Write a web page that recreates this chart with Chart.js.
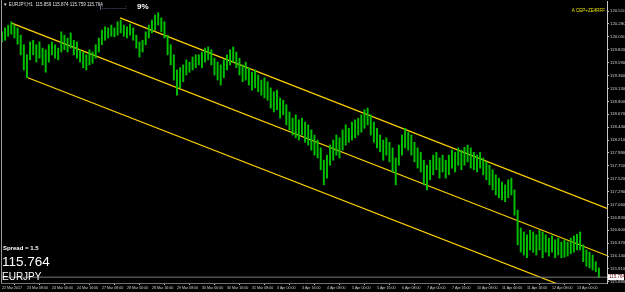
<!DOCTYPE html>
<html>
<head>
<meta charset="utf-8">
<script src="https://cdn.jsdelivr.net/npm/chart.js@4.4.1/dist/chart.umd.min.js"></script>
<style>
  html, body { margin: 0; padding: 0; background: #000; }
  #myChart { display: block; }
</style>
</head>
<body>
<canvas id="myChart" width="625" height="292"></canvas>
<script>
// EURJPY H1, shown as 2-hour bars (high / low)
const highs = [
  120.14, 120.21, 120.26, 120.32, 120.26, 120.21, 120.08, 119.91, 119.73, 119.96,
  119.99, 119.91, 119.96, 119.85, 119.82, 119.91, 119.96, 119.91, 119.85, 120.14,
  120.08, 120.03, 120.12, 119.99, 119.96, 119.82, 119.78, 119.73, 119.82, 119.78,
  119.91, 120.03, 120.17, 120.23, 120.21, 120.26, 120.21, 120.32, 120.35, 120.26,
  120.23, 120.28, 120.21, 120.08, 119.96, 119.99, 120.14, 120.26, 120.35, 120.44,
  120.48, 120.39, 120.32, 120.08, 119.91, 119.73, 119.46, 119.50, 119.55, 119.64,
  119.60, 119.69, 119.73, 119.73, 119.78, 119.85, 119.87, 119.82, 119.67, 119.60,
  119.55, 119.64, 119.73, 119.82, 119.87, 119.78, 119.67, 119.55, 119.60, 119.50,
  119.42, 119.46, 119.37, 119.28, 119.32, 119.25, 119.14, 119.07, 119.10, 118.96,
  118.92, 118.84, 118.71, 118.60, 118.66, 118.57, 118.60, 118.53, 118.48, 118.39,
  118.30, 118.21, 118.07, 117.85, 117.94, 118.12, 118.21, 118.30, 118.25, 118.39,
  118.48, 118.42, 118.53, 118.57, 118.60, 118.66, 118.75, 118.78, 118.66, 118.53,
  118.42, 118.30, 118.21, 118.25, 118.17, 118.07, 117.89, 118.12, 118.30, 118.42,
  118.35, 118.30, 118.17, 118.07, 117.99, 117.85, 117.76, 117.85, 117.94, 117.99,
  117.89, 117.94, 117.85, 117.94, 118.03, 117.99, 118.07, 118.03, 118.08, 118.12,
  118.07, 117.99, 117.94, 117.99, 117.89, 117.82, 117.76, 117.68, 117.59, 117.53,
  117.46, 117.41, 117.50, 117.53, 117.32, 116.96, 116.64, 116.57, 116.52, 116.60,
  116.57, 116.52, 116.60, 116.57, 116.52, 116.46, 116.50, 116.43, 116.46, 116.39,
  116.43, 116.39, 116.46, 116.50, 116.53, 116.57, 116.34, 116.25, 116.21, 116.16,
  116.04, 115.93
];
const lows = [
  119.96, 119.99, 120.06, 120.10, 120.03, 119.92, 119.73, 119.46, 119.32, 119.64,
  119.73, 119.60, 119.67, 119.55, 119.42, 119.60, 119.73, 119.67, 119.64, 119.78,
  119.82, 119.78, 119.85, 119.73, 119.67, 119.60, 119.50, 119.46, 119.55, 119.58,
  119.67, 119.78, 119.91, 119.99, 120.03, 120.06, 120.05, 120.08, 120.12, 120.06,
  120.03, 120.08, 119.99, 119.85, 119.69, 119.78, 119.91, 120.03, 120.12, 120.17,
  120.26, 120.14, 120.03, 119.73, 119.55, 119.28, 119.01, 119.14, 119.25, 119.37,
  119.42, 119.46, 119.50, 119.55, 119.50, 119.60, 119.64, 119.55, 119.37, 119.28,
  119.19, 119.32, 119.46, 119.55, 119.60, 119.50, 119.37, 119.25, 119.28, 119.19,
  119.10, 119.14, 119.07, 119.01, 118.96, 118.92, 118.78, 118.71, 118.75, 118.60,
  118.66, 118.48, 118.39, 118.30, 118.25, 118.21, 118.30, 118.17, 118.12, 118.03,
  117.94, 117.89, 117.68, 117.41, 117.53, 117.76, 117.85, 117.94, 117.89, 118.03,
  118.12, 118.17, 118.21, 118.25, 118.30, 118.35, 118.42, 118.48, 118.30, 118.17,
  118.07, 118.00, 117.85, 117.94, 117.82, 117.64, 117.41, 117.76, 117.94, 118.07,
  118.03, 117.94, 117.82, 117.71, 117.64, 117.41, 117.32, 117.50, 117.59, 117.68,
  117.53, 117.64, 117.53, 117.59, 117.71, 117.64, 117.76, 117.68, 117.76, 117.82,
  117.71, 117.68, 117.64, 117.71, 117.59, 117.50, 117.41, 117.32, 117.23, 117.18,
  117.14, 117.11, 117.18, 117.23, 116.87, 116.34, 116.21, 116.16, 116.11, 116.25,
  116.21, 116.16, 116.25, 116.11, 116.21, 116.14, 116.21, 116.11, 116.16, 116.11,
  116.12, 116.14, 116.18, 116.21, 116.25, 116.25, 116.04, 115.96, 115.93, 115.89,
  115.86, 115.76
];

// channel lines: [bar index, price]
const channelUpper = [[37.8, 120.39], [193.6, 116.99]];
const channelMiddle = [[2.9, 120.30], [193.6, 116.15]];
const channelLower = [[8.3, 119.32], [193.6, 115.30]];

const bid = 115.764;
const spread = 1.5;

const timeLabels = [
  '22 Mar 2017', '23 Mar 08:00', '24 Mar 00:00', '24 Mar 16:00', '27 Mar 08:00',
  '28 Mar 00:00', '28 Mar 16:00', '29 Mar 08:00', '30 Mar 00:00', '30 Mar 16:00',
  '31 Mar 08:00', '3 Apr 00:00', '3 Apr 16:00', '4 Apr 08:00', '5 Apr 00:00',
  '5 Apr 16:00', '6 Apr 08:00', '7 Apr 00:00', '7 Apr 16:00', '10 Apr 08:00',
  '11 Apr 00:00', '11 Apr 16:00', '12 Apr 08:00', '13 Apr 00:00'
];
const priceTicks = [
  120.51, 120.28, 120.05, 119.82, 119.59, 119.36, 119.13, 118.90, 118.67, 118.44,
  118.21, 117.98, 117.75, 117.52, 117.29, 117.06, 116.83, 116.60, 116.37, 116.14,
  115.91, 115.68
];

const toPts = (arr) => arr.map(p => ({x: p[0], y: p[1]}));

// fixed axis sizes, no label overflow padding
function fixBox(size) {
  return (scale) => {
    if (scale.isHorizontal()) scale.height = size; else scale.width = size;
    scale.paddingLeft = 0;
    scale.paddingRight = 0;
    scale.paddingTop = 0;
    scale.paddingBottom = 0;
  };
}

const overlay = {
  id: 'overlay',
  afterDraw(chart) {
    const ctx = chart.ctx;
    const a = chart.chartArea;
    ctx.save();
    ctx.strokeStyle = '#9a9a9a';
    ctx.lineWidth = 1;
    ctx.beginPath();
    ctx.moveTo(1.5, 0); ctx.lineTo(1.5, a.bottom);
    ctx.stroke();

    ctx.textBaseline = 'middle';
    ctx.textAlign = 'left';
    // header
    ctx.fillStyle = '#e0e0e0';
    ctx.font = '4.5px "Liberation Sans", Arial, sans-serif';
    ctx.fillText('\u25BC EURJPY,H1  115.859 115.874 115.759 115.764', 3, 5);
    ctx.fillStyle = '#a8c8ff';
    ctx.font = '6px "Liberation Sans", Arial, sans-serif';
    ctx.fillText('|:.............:', 100, 7);
    ctx.fillStyle = '#ffffff';
    ctx.font = 'bold 8px "Liberation Sans", Arial, sans-serif';
    ctx.fillText('9%', 137, 7);
    ctx.fillStyle = '#e8e000';
    ctx.font = '4.5px "Liberation Sans", Arial, sans-serif';
    ctx.textAlign = 'right';
    ctx.fillText('A CEP+ZE4RFF', 605, 11);

    // bottom-left info
    ctx.textAlign = 'left';
    ctx.fillStyle = '#ffffff';
    ctx.font = 'bold 6px "Liberation Sans", Arial, sans-serif';
    ctx.fillText('Spread = ' + spread, 3, 248);
    ctx.font = '13.5px "Liberation Sans", Arial, sans-serif';
    ctx.fillText(bid.toFixed(3), 2, 262);
    ctx.font = '10px "Liberation Sans", Arial, sans-serif';
    ctx.fillText('EURJPY', 2, 277);

    // current price label on axis
    const yb = chart.scales.y.getPixelForValue(bid);
    ctx.fillStyle = '#ffffff';
    ctx.fillRect(608, yb - 3, 16, 6);
    ctx.fillStyle = '#600000';
    ctx.font = '4.5px "Liberation Sans", Arial, sans-serif';
    ctx.fillText(bid.toFixed(3), 609, yb);
    ctx.restore();
  }
};

const config = {
  type: 'bar',
  data: {
    datasets: [
      {
        label: 'Bid',
        type: 'line',
        data: [{x: -0.3, y: bid}, {x: 193.6, y: bid}],
        borderColor: '#7a7a7a',
        borderWidth: 1,
        pointRadius: 0
      },
      {
        label: 'EURJPY',
        data: highs.map((h, i) => ({x: i, y: [lows[i], h]})),
        backgroundColor: '#00c000',
        borderWidth: 0,
        barThickness: 1.3,
        grouped: false
      },
      {
        label: 'Upper',
        type: 'line',
        data: toPts(channelUpper),
        borderColor: '#ffd200',
        borderWidth: 1.2,
        pointRadius: 0
      },
      {
        label: 'Middle',
        type: 'line',
        data: toPts(channelMiddle),
        borderColor: '#ffd200',
        borderWidth: 1.2,
        pointRadius: 0
      },
      {
        label: 'Lower',
        type: 'line',
        data: toPts(channelLower),
        borderColor: '#ffd200',
        borderWidth: 1.2,
        pointRadius: 0
      }
    ]
  },
  options: {
    responsive: false,
    animation: false,
    devicePixelRatio: 1,
    layout: { autoPadding: false, padding: { left: 1, top: 1, right: 0, bottom: 0 } },
    plugins: {
      legend: { display: false },
      tooltip: { enabled: false }
    },
    scales: {
      x: {
        type: 'linear',
        offset: false,
        min: -0.3,
        max: 193.6,
        afterBuildTicks: (scale) => {
          scale.ticks = timeLabels.map((t, k) => ({value: k * 8}));
        },
        afterFit: fixBox(9),
        grid: { drawOnChartArea: false, color: '#c0c0c0', tickLength: 2 },
        border: { display: true, color: '#707070' },
        ticks: {
          autoSkip: false,
          maxRotation: 0,
          align: 'start',
          padding: 1,
          color: '#d0d0d0',
          font: { size: 3.6, family: '"Liberation Sans", Arial, sans-serif' },
          callback: (v) => timeLabels[Math.round(v / 8)]
        }
      },
      y: {
        position: 'right',
        min: 115.66,
        max: 120.69,
        afterBuildTicks: (scale) => {
          scale.ticks = priceTicks.map(v => ({value: v}));
        },
        afterFit: fixBox(18),
        grid: { drawOnChartArea: false, color: '#c0c0c0', tickLength: 2 },
        border: { display: true, color: '#c8c8c8' },
        ticks: {
          autoSkip: false,
          padding: 1,
          color: '#d0d0d0',
          font: { size: 4.3, family: '"Liberation Sans", Arial, sans-serif' },
          callback: (v) => v.toFixed(3)
        }
      }
    }
  },
  plugins: [overlay]
};

new Chart(document.getElementById('myChart'), config);
</script>
</body>
</html>
